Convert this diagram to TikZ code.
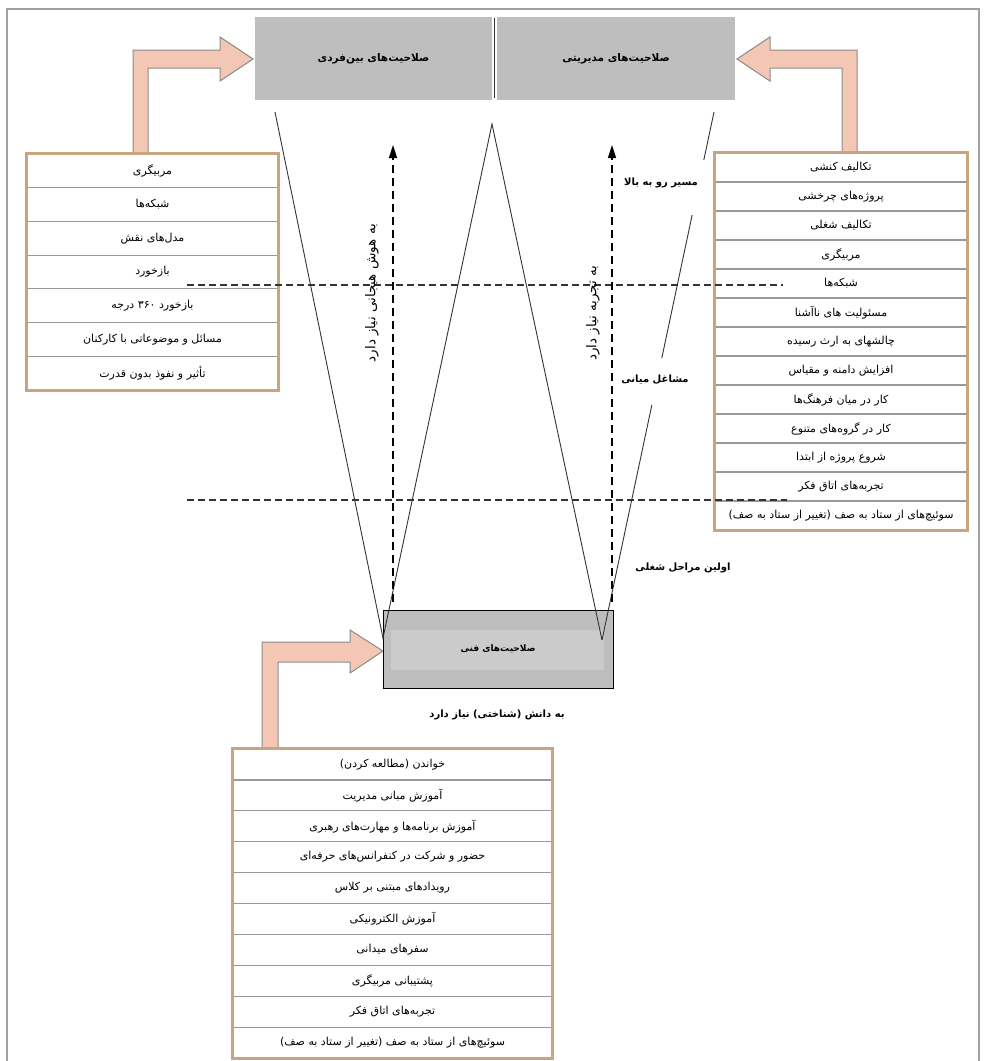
\documentclass[tikz,border=0pt]{standalone}
\usepackage{fontspec}
\newfontfamily\arabicfont[Script=Arabic]{DejaVu Sans}
\TeXXeTstate=1
\newcommand{\fatext}[1]{\arabicfont\beginR #1\endR}
\usetikzlibrary{arrows.meta,calc}
\definecolor{framegray}{HTML}{A0A0A0}
\definecolor{boxgray}{HTML}{BEBEBE}
\definecolor{techgray}{HTML}{BDBDBD}
\definecolor{techinner}{HTML}{CBCBCB}
\definecolor{tanborder}{HTML}{C9A47E}
\definecolor{rowline}{HTML}{9A9A9A}
\definecolor{salmon}{HTML}{F4C6B4}
\definecolor{arrowedge}{HTML}{8C8C8C}
\definecolor{linegray}{HTML}{333333}
\begin{document}
\begin{tikzpicture}[x=1pt,y=-1pt,
  rowcell/.style={draw=rowline, line width=1.2pt, fill=white, inner sep=0pt,
    font=\fontsize{11}{13}\selectfont},
  listbox/.style={draw=tanborder, line width=2.5pt},
  topbox/.style={fill=boxgray, inner sep=0pt, minimum height=83pt,
    font=\fontsize{10.5}{12}\selectfont\bfseries},
  techbox/.style={fill=techgray, draw=black, line width=1pt, inner sep=0pt,
    minimum width=230pt, minimum height=78pt},
  lbl/.style={inner sep=1pt, font=\fontsize{10}{12}\selectfont\bfseries},
  vlbl/.style={inner sep=1pt, rotate=90, font=\fontsize{13.5}{15}\selectfont},
  blockarrow/.style={fill=salmon, draw=arrowedge, line width=1pt, line join=miter},
  vline/.style={draw=linegray, line width=0.9pt},
  levelline/.style={draw=black!80, line width=1.6pt, dash pattern=on 7pt off 4pt},
  dasharrow/.style={draw=black, line width=1.6pt, dash pattern=on 8pt off 5pt,
    -{Triangle[length=13pt,width=8pt]}}
]
\useasboundingbox (0,0) rectangle (986,1061);
% outer frame
\draw[framegray, line width=1.5pt] (7,1061) -- (7,9) -- (979,9) -- (979,1061);

% top boxes
\node[topbox, minimum width=237pt] (IP) at (373.5,58.5) {\fatext{صلاحیت‌های بین‌فردی}};
\node[topbox, minimum width=238pt] (MG) at (616,58.5) {\fatext{صلاحیت‌های مدیریتی}};
\coordinate (sepT) at (494.5,18);
\coordinate (sepB) at (494.5,98);
\draw[black!80, line width=1.3pt] (sepT) -- (sepB);

% block arrows
\draw[blockarrow] (133,154) -- (133,50) -- (220,50) -- (220,37) -- (253,59)
  -- (220,81) -- (220,68) -- (148,68) -- (148,154) -- cycle;
\draw[blockarrow] (857,153) -- (857,50) -- (770,50) -- (770,37) -- (737,59)
  -- (770,81) -- (770,68) -- (842,68) -- (842,153) -- cycle;
\draw[blockarrow] (262,749) -- (262,642) -- (350,642) -- (350,630) -- (383,651)
  -- (350,673) -- (350,662) -- (278,662) -- (278,749) -- cycle;

% left list
\foreach \t [count=\i] in {{مربیگری},{شبکه‌ها},{مدل‌های نقش},{بازخورد},
  {بازخورد \beginL۳۶۰\endL{} درجه},{مسائل و موضوعاتی با کارکنان},{تأثیر و نفوذ بدون قدرت}}
  \node[rowcell, minimum width=251pt, minimum height=33.7pt] (L\i)
    at (152.5,{154+33.7*(\i-0.5)}) {\fatext{\t}};
\draw[listbox] (L1.north west) rectangle (L7.south east);

% right list
\foreach \t [count=\i] in {{تکالیف کنشی},{پروژه‌های چرخشی},{تکالیف شغلی},{مربیگری},
  {شبکه‌ها},{مسئولیت های ناآشنا},{چالشهای به ارث رسیده},{افزایش دامنه و مقیاس},
  {کار در میان فرهنگ‌ها},{کار در گروه‌های متنوع},{شروع پروژه از ابتدا},
  {تجربه‌های اتاق فکر},{سوئیچ‌های از ستاد به صف (تغییر از ستاد به صف)}}
  \node[rowcell, minimum width=252pt, minimum height=29pt] (R\i)
    at (841,{153+29*(\i-0.5)}) {\fatext{\t}};
\draw[listbox] (R1.north west) rectangle (R13.south east);

% bottom list
\foreach \t [count=\i] in {{خواندن (مطالعه کردن)},{آموزش مبانی مدیریت},
  {آموزش برنامه‌ها و مهارت‌های رهبری},{حضور و شرکت در کنفرانس‌های حرفه‌ای},
  {رویدادهای مبتنی بر کلاس},{آموزش الکترونیکی},{سفرهای میدانی},{پشتیبانی مربیگری},
  {تجربه‌های اتاق فکر},{سوئیچ‌های از ستاد به صف (تغییر از ستاد به صف)}}
  \node[rowcell, minimum width=319pt, minimum height=30.9pt] (B\i)
    at (392.5,{749+30.9*(\i-0.5)}) {\fatext{\t}};
\draw[listbox] (B1.north west) rectangle (B10.south east);

% technical box
\node[techbox] (TB) at (498,649) {};
\fill[techinner] (391,630) rectangle (604,670);
\node[font=\fontsize{9}{11}\selectfont\bfseries, inner sep=0pt] (TBt) at (TB.center) {\fatext{صلاحیت‌های فنی}};
\node[lbl] (know) at (497,715) {\fatext{به دانش (شناختی) نیاز دارد}};

% level lines
\coordinate (h1a) at (187,285); \coordinate (h1b) at (783,285);
\coordinate (h2a) at (187,500); \coordinate (h2b) at (787,500);
\draw[levelline] (h1a) -- (h1b);
\draw[levelline] (h2a) -- (h2b);

% V lines
\coordinate (p1) at (275,112);
\coordinate (v1) at (383,638);
\coordinate (apex) at (492,124);
\coordinate (v2) at (602,640);
\coordinate (p2) at (714,112);
\draw[vline] (p1) -- (v1) -- (apex) -- (v2);
\draw[vline] (v2) -- ($(v2)!0.445!(p2)$);
\draw[vline] ($(v2)!0.534!(p2)$) -- ($(v2)!0.805!(p2)$);
\draw[vline] ($(v2)!0.909!(p2)$) -- (p2);

% dashed arrows
\coordinate (da0) at (393,602); \coordinate (da1) at (393,145);
\coordinate (db0) at (612,602); \coordinate (db1) at (612,145);
\draw[dasharrow] (da0) -- (da1);
\draw[dasharrow] (db0) -- (db1);
\node[vlbl] (eq) at (372,293) {\fatext{به هوش هیجانی نیاز دارد}};
\node[vlbl] (exp) at (593,313) {\fatext{به تجربه نیاز دارد}};

% stage labels
\node[lbl] (up) at (661,183) {\fatext{مسیر رو به بالا}};
\node[lbl] (mid) at (655,380) {\fatext{مشاغل میانی}};
\node[lbl] (first) at (683,568) {\fatext{اولین مراحل شغلی}};
\end{tikzpicture}
\end{document}
